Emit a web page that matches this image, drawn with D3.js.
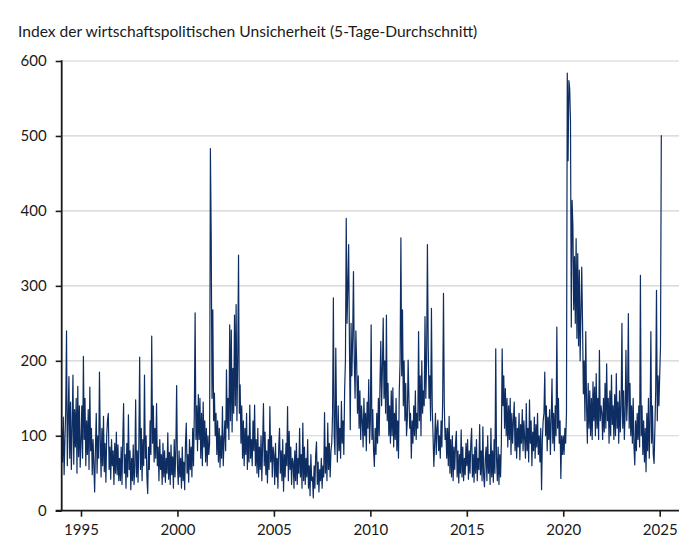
<!DOCTYPE html>
<html><head><meta charset="utf-8">
<script src="https://cdn.jsdelivr.net/npm/d3@7"></script>
<style>
html,body{margin:0;padding:0;background:#fff;}
svg{display:block;}
text{font-family:Lato,"Open Sans",sans-serif;fill:#1a1a1a;}
</style></head><body>
<svg id="chart" width="700" height="554"></svg>
<script>
const title = "Index der wirtschaftspolitischen Unsicherheit (5-Tage-Durchschnitt)";
const yTicks = [0, 100, 200, 300, 400, 500, 600];
const xTicks = [1995, 2000, 2005, 2010, 2015, 2020, 2025];
const yGrid = [100, 200, 300, 400, 500, 600];

// Semi-monthly readings (24 per year)
const y1994 = [110,65,125,48,95,135,240,60,120,179,70,145,55,110,181,62,135,85,150,50,166,72,140,58];
const y1995 = [90,140,70,206,95,150,60,120,75,135,55,165,80,110,48,95,60,25,85,130,50,100,70,185];
const y1996 = [95,45,110,60,126,52,90,38,100,121,130,55,85,42,95,60,80,35,90,50,105,48,88,40];
const y1997 = [70,40,85,35,95,143,50,75,30,90,45,128,55,80,28,70,40,88,35,60,148,45,80,38];
const y1998 = [90,205,55,110,40,95,60,181,70,100,45,23,85,55,120,75,233,90,140,65,110,70,143,60];
const y1999 = [85,40,95,55,75,35,90,45,80,38,70,50,104,42,78,35,88,48,72,30,95,45,82,167];
const y2000 = [60,35,80,45,70,30,85,40,65,28,90,117,50,75,38,95,55,85,45,110,60,130,264,95];
const y2001 = [140,80,155,95,150,70,130,60,145,85,120,65,110,60,100,75,90,483,366,150,268,120,157,100];
const y2002 = [130,75,120,65,110,58,100,70,139,60,95,120,80,188,110,150,95,248,120,241,105,190,130,261];
const y2003 = [140,275,120,200,341,130,168,90,140,70,120,60,110,75,130,55,100,65,141,70,95,60,120,80];
const y2004 = [141,60,95,50,110,45,85,55,100,40,90,143,60,105,48,80,37,95,55,139,65,100,45,85];
const y2005 = [75,35,90,45,70,30,85,110,50,80,40,95,26,75,45,90,60,139,40,106,55,85,35,70];
const y2006 = [65,30,80,40,90,35,70,50,110,45,75,30,117,40,85,35,70,45,95,30,60,20,75,40];
const y2007 = [45,17,60,30,75,92,35,65,25,55,40,70,30,60,45,131,50,85,40,117,55,90,45,80];
const y2008 = [90,130,284,100,75,217,120,65,140,80,110,70,146,90,120,75,160,200,390,250,300,355,220,108];
const y2009 = [250,180,230,319,200,150,240,197,130,180,110,160,95,140,120,85,150,100,130,80,145,110,175,90];
const y2010 = [120,248,95,135,80,59,110,75,130,90,150,100,170,226,140,190,257,150,200,130,261,120,170,100];
const y2011 = [140,90,160,100,164,85,130,95,150,80,120,70,160,200,364,180,268,140,200,120,170,100,121,201];
const y2012 = [150,110,130,70,120,90,140,100,160,95,130,110,239,120,180,100,200,130,160,140,259,150,200,355];
const y2013 = [220,150,180,120,270,140,100,59,90,130,75,110,121,80,100,70,120,85,150,290,140,95,110,70];
const y2014 = [110,60,126,50,95,45,100,40,85,55,90,106,45,80,37,75,50,108,45,85,40,70,48,90];
const y2015 = [60,95,42,80,50,90,110,45,75,38,85,50,95,40,70,55,115,48,80,40,112,45,32,70];
const y2016 = [85,40,100,50,75,35,110,45,80,38,95,50,216,70,40,85,35,75,45,90,216,140,180,110];
const y2017 = [163,100,150,85,140,95,150,75,130,90,120,145,80,125,70,110,85,130,68,115,90,135,80,120];
const y2018 = [95,70,143,80,110,65,148,90,120,60,105,80,125,70,115,85,130,75,100,65,110,28,95,120];
const y2019 = [130,185,100,140,80,125,95,135,75,120,176,90,130,80,140,100,245,110,150,90,120,43,100,75];
const y2020 = [100,75,110,90,130,584,467,574,563,520,245,414,379,268,339,250,363,230,343,220,321,200,263,325];
const y2021 = [250,156,200,120,239,140,90,170,110,160,100,150,95,172,120,165,100,183,110,150,95,214,120,140];
const y2022 = [130,95,150,105,170,110,196,120,150,90,160,100,181,115,140,95,155,100,183,110,145,90,160,105];
const y2023 = [140,250,110,160,95,130,214,120,150,263,110,170,100,140,90,150,85,61,120,80,130,95,140,85];
const y2024 = [314,100,140,75,120,65,110,52,130,80,150,70,120,239,90,140,75,63,110,160,294,120,180,140];
const y2025 = [180,220,501];

const years = [
  [1994,y1994],[1995,y1995],[1996,y1996],[1997,y1997],[1998,y1998],[1999,y1999],
  [2000,y2000],[2001,y2001],[2002,y2002],[2003,y2003],[2004,y2004],[2005,y2005],
  [2006,y2006],[2007,y2007],[2008,y2008],[2009,y2009],[2010,y2010],[2011,y2011],
  [2012,y2012],[2013,y2013],[2014,y2014],[2015,y2015],[2016,y2016],[2017,y2017],
  [2018,y2018],[2019,y2019],[2020,y2020],[2021,y2021],[2022,y2022],[2023,y2023],
  [2024,y2024],[2025,y2025]
];
const series = [];
years.forEach(([yr, vals]) => vals.forEach((v, i) => series.push({t: yr + i / 24, v})));

const svg = d3.select("#chart");
const x = d3.scaleLinear().domain([1994, 2026]).range([61.7, 679]);
const y = d3.scaleLinear().domain([0, 600]).range([510.7, 61]);

svg.append("text").attr("x", 18).attr("y", 37)
  .style("font-size", "15.6px").text(title);

// grid
svg.append("g").selectAll("line").data(yGrid).join("line")
  .attr("x1", x(1994)).attr("x2", x(2026))
  .attr("y1", d => y(d)).attr("y2", d => y(d))
  .attr("stroke", "#d2d2d2").attr("stroke-width", 1.2);

// line
svg.append("path").datum(series)
  .attr("fill", "none").attr("stroke", "#0e2d62").attr("stroke-width", 1.2)
  .attr("stroke-linejoin", "round")
  .attr("d", d3.line().x(d => x(d.t)).y(d => y(d.v)));

// y axis
const ya = svg.append("g").attr("transform", `translate(${x(1994)},0)`)
  .call(d3.axisLeft(y).tickValues(yTicks).tickSize(6).tickPadding(9).tickFormat(d3.format("d")));
ya.select(".domain").remove();
ya.selectAll(".tick line").attr("stroke", "#1a1a1a").attr("stroke-width", 1.6);
ya.selectAll("text").style("font-size", "15px").style("font-family", "Lato, sans-serif").attr("fill", "#1a1a1a");
svg.append("line").attr("x1", x(1994)).attr("x2", x(1994)).attr("y1", y(600) - 0.8).attr("y2", y(0))
  .attr("stroke", "#1a1a1a").attr("stroke-width", 1.8);

// x axis
const xa = svg.append("g").attr("transform", `translate(0,${y(0)})`)
  .call(d3.axisBottom(x).tickValues(xTicks).tickSize(6).tickPadding(8).tickFormat(d3.format("d")));
xa.select(".domain").remove();
xa.selectAll(".tick line").attr("stroke", "#1a1a1a").attr("stroke-width", 1.6);
xa.selectAll("text").style("font-size", "15px").style("font-family", "Lato, sans-serif").attr("fill", "#1a1a1a");
svg.append("line").attr("x1", x(1994) - 6).attr("x2", x(2026)).attr("y1", y(0)).attr("y2", y(0))
  .attr("stroke", "#1a1a1a").attr("stroke-width", 1.8);
</script></body></html>
